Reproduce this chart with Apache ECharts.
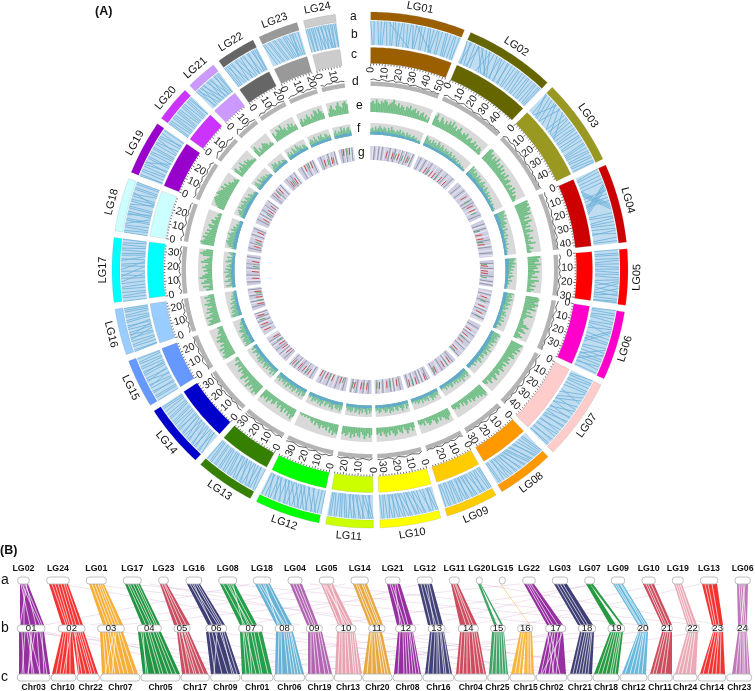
<!DOCTYPE html>
<html><head><meta charset="utf-8">
<style>html,body{margin:0;padding:0;background:#fff}#c{width:755px;height:691px}</style>
<script src="https://cdn.jsdelivr.net/npm/echarts@6/dist/echarts.min.js"></script>
</head><body><div id="c"></div>
<script>
const lgNames=['LG01','LG02','LG03','LG04','LG05','LG06','LG07','LG08','LG09','LG10','LG11','LG12','LG13','LG14','LG15','LG16','LG17','LG18','LG19','LG20','LG21','LG22','LG23','LG24'];
const lgLengths=[52,49.9,47.8,43.4,30.7,38,44.9,31.5,28.8,33.4,26,36,32.7,34.9,26.8,25.4,35.4,29.3,29.9,19.9,17,21.7,22,17.6];
const lgColors=['#9c5f00','#666600','#999922','#cc0000','#ff0000','#ff00cc','#ffcccc','#ff9900','#ffcc00','#ffff00','#ccff00','#00ff00','#358000','#0000cc','#6699ff','#99ccff','#00ffff','#ccffff','#9900cc','#cc33ff','#cc99ff','#666666','#999999','#cccccc'];

const syntenyLinks=[
[0,1,2,2,4,5,6,6,8,7,9,10,11,12,13,13,14,16,16,16,18,17,19,20,21,22,23,23,24,26,26,26,28,27,29,30,31,31,33,34,34,36,36,36,38,37,39,40,41,41,43,44,44,45,46,46,48,48,49,50,51,51,10,24,26,38],
[0,2,2,4,3,1,5,6,7,8,8,5,10,14,12,18,14,20,15,12,17,17,19,22,21,21,22,25,24,24,26,28,27,27,29,30,31,31,33,33,34,35,36,37,38,38,40,40,41,42,43,43,45,45,46,47,48,48,49,49,7,16,9,19],
[0,6,1,3,3,7,5,9,7,12,8,16,9,4,11,20,12,9,14,24,16,16,18,18,19,21,21,22,23,23,25,25,26,27,28,28,30,30,31,32,33,33,35,36,36,37,38,38,40,39,41,41,43,42,44,44,46,45,47,47],
[0,2,2,3,4,5,6,7,8,9,9,21,10,22,11,23,12,24,10,20,13,14,15,16,21,9,22,10,23,11,24,12,17,18,19,19,26,26,28,27,29,30,31,31,33,32,35,34,36,37,38,36,40,41,42,42],
[0,0,2,2,3,3,5,5,6,7,8,8,10,9,11,11,13,12,14,14,16,15,17,18,18,21,19,24,21,19,22,26,24,22,25,27,26,25,28,28,29,30,30,30],
[0,1,2,2,3,4,5,5,7,6,8,9,10,10,11,13,12,20,13,22,15,11,17,16,19,18,20,20,22,24,23,30,25,25,26,33,27,27,29,29,30,31,32,32,33,35,35,34,37,37],
[0,2,2,3,3,5,5,6,7,8,8,10,9,15,11,18,13,20,15,13,17,22,19,19,20,26,22,22,24,28,25,25,27,31,28,29,30,33,31,32,33,36,35,35,36,39,38,38,40,42,41,41,43,44,44,44],
[0,3,1,4,2,6,3,8,4,11,5,10,7,14,8,13,9,16,10,17,12,19,13,18,15,21,16,20,18,23,19,22,21,24,22,26,24,25,25,28,27,27,29,30,30,31],
[0,1,1,2,2,4,4,7,5,5,6,10,7,8,9,12,10,11,11,14,12,13,14,16,15,15,16,18,18,17,19,20,20,21,22,22,23,24,25,25,26,27,28,28],
[0,2,1,4,3,3,4,8,5,6,7,12,8,10,9,15,11,13,12,17,13,16,15,20,16,18,17,22,19,21,20,24,22,23,23,26,25,25,26,28,28,27,29,30,31,31,32,33],
[0,3,1,5,2,7,3,2,5,9,6,6,7,11,8,10,10,13,11,12,12,15,14,14,15,17,16,18,18,19,19,20,21,21,22,23,24,24,25,25],
[0,0,2,2,3,8,4,4,5,11,6,7,8,14,9,10,10,16,12,13,13,19,14,15,15,22,17,17,18,24,20,20,21,26,22,23,24,29,25,25,27,31,28,28,30,30,31,34,33,33,35,35],
[0,0,1,3,3,3,4,7,5,5,6,10,8,8,9,13,10,11,12,15,13,13,14,17,16,16,17,19,18,20,20,21,21,23,23,24,24,25,26,27,27,28,29,30,30,31,32,32],
[0,3,2,5,3,3,5,8,6,6,7,11,8,9,10,14,11,12,12,16,14,14,15,18,16,17,18,20,19,19,20,22,22,23,23,25,24,26,26,28,27,29,29,30,31,32,33,33,34,34],
[0,0,2,2,3,3,5,6,6,5,8,8,9,12,10,9,12,15,13,11,14,14,16,17,17,19,18,18,20,20,21,22,23,23,24,25,26,26],
[0,1,1,1,3,3,4,5,6,6,7,11,8,8,9,14,10,9,11,12,13,13,14,16,15,15,17,18,18,19,20,20,21,22,23,23,24,24,25,25],
[0,0,2,2,3,4,5,5,7,7,8,9,10,11,11,16,13,13,14,20,15,14,17,17,18,23,20,20,21,22,23,26,24,24,26,27,27,28,29,29,30,31,32,32,33,34,35,35],
[0,0,1,2,3,3,4,5,5,10,7,7,8,8,10,13,11,11,12,12,14,14,15,15,16,19,18,18,19,20,21,21,22,24,23,19,25,25,26,26,28,28,29,29],
[0,1,1,1,3,3,4,5,6,6,7,9,8,14,9,8,11,11,12,12,14,14,15,16,17,17,18,18,20,20,21,23,23,21,24,25,25,27,27,26,29,29],
[0,0,1,1,2,3,4,4,5,5,6,7,8,8,9,9,10,11,12,12,13,13,14,15,16,16,17,17,18,19,19,19],
[0,3,1,6,2,2,3,8,4,4,5,10,6,7,8,12,9,9,10,14,11,11,13,15,14,13,15,16,16,16],
[0,1,1,2,2,5,3,3,4,8,5,6,7,11,8,8,9,13,11,11,12,16,13,14,15,18,16,16,18,20,19,19,20,21,21,21],
[0,3,1,5,3,7,4,8,6,10,7,11,9,13,10,14,12,15,13,16,14,18,16,17,17,19,18,17,19,20,21,21],
[0,0,1,2,2,2,3,4,4,4,5,6,6,9,7,7,8,11,9,9,10,13,11,11,12,14,13,13,14,15,15,15,16,17,17,17]];

const trackD=[
[5,6,5,4,6,5,4,5,6,4,5,5,4,5,3,4,5,4,4,3,4,5,3,4,3,4],[4,6,5,4,5,3,4,6,5,4,5,3,4,5,4,3,5,4,3,4,3,4,3],[3,6,5,4,6,5,3,5,4,6,4,3,5,4,5,3,4,3,4,3,4],[6,5,6,4,5,4,6,5,4,5,3,4,5,3,4,5,3,4,3,4],[5,6,4,5,3,5,4,6,3,4,5,4,3,4],[6,5,4,6,4,3,5,4,5,3,4,6,4,3,4,3,4],[5,4,3,5,6,4,3,5,4,3,5,6,3,4,5,3,4,4,3,4],[4,3,5,4,3,5,6,4,3,5,3,4,3,4],[5,3,4,5,3,4,3,5,4,3,4,3,4],[3,5,4,3,4,5,4,3,6,4,3,4,5,4],[3,5,4,3,4,5,3,4,3,4,5,4],[3,5,4,6,5,3,4,5,3,4,5,4,3,4,5],[4,3,5,4,3,5,6,3,4,5,3,4,5,4],[5,6,4,3,5,3,4,5,4,6,3,5,3,4,5,4],[4,3,5,6,3,4,5,3,4,5,3,4],[6,4,5,3,6,4,7,4,5,4,6,4],[6,4,7,5,6,8,4,6,5,7,4,6,5,4,6,4],[6,7,4,6,8,5,4,6,7,4,6,5,6,4],[6,4,6,7,4,6,5,7,5,4,6,5,7,4],[4,6,8,5,7,4,6,8,5,6],[4,9,5,6,4,6,5,4],[4,6,4,6,5,7,4,6,5,4],[4,6,5,6,7,4,6,5,6,4],[6,4,6,5,7,5,6,5]];
const trackE=[
[7,8,6,9,7,6,8,7,9,8,6,7,8,10,7,6,8,5,7,6,4,7,6,8,5,6,7,4,6,3,5,6,3,5,2,4],
[7,9,5,4,8,6,4,7,5,8,6,9,5,7,4,6,8,5,4,6,5,7,3,5,6,3,4,6,3,5,2,5,4,2],
[9,10,7,8,5,8,6,9,5,7,4,8,5,7,3,6,4,7,3,5,6,2,4,5,2,6,3,5,2,4,3,2],
[10,9,10,8,10,9,7,9,4,7,3,8,5,3,6,2,5,7,2,4,3,6,2,4,7,2,3,5,2,3],
[9,7,8,5,9,6,7,4,8,5,3,7,2,8,5,3,6,2,5,3],
[9,10,9,7,10,8,6,9,3,6,3,8,4,3,2,3,3,6,8,3,5,7,2,4,6,3],
[9,8,7,9,6,8,5,7,8,4,6,5,7,3,6,4,5,7,3,5,6,3,5,7,3,4,6,2,4,3],
[8,9,7,8,6,7,5,6,7,4,6,3,5,6,3,5,2,4,5,3,4,3],
[5,6,8,7,5,4,6,3,6,7,4,3,5,6,4,2,5,3,4,3],
[4,6,3,5,7,4,2,6,5,3,6,7,5,3,6,4,7,5,3,6,4,5],
[5,7,4,6,8,5,3,7,6,4,7,5,8,4,6,7,5,6],
[7,6,8,5,7,3,6,4,5,3,6,4,3,5,2,4,3,1,2,1,2,1,2,1],
[6,8,5,7,4,6,3,7,5,3,6,4,2,5,6,3,5,7,4,6,5,7],
[8,7,9,6,8,5,7,9,4,7,3,6,8,4,5,3,6,2,4,3,5,1,3,2],
[8,9,7,8,6,9,5,7,4,6,8,5,7,3,5,4,3,4],
[9,7,8,5,9,6,4,8,5,7,3,6,8,4,6,3,7,4],
[5,3,7,2,8,6,4,9,7,5,3,6,4,7,5,3,8,6,4,2,7,9,7,5],
[9,10,8,7,9,6,8,5,7,4,6,7,3,5,6,3,4,2,3,2],
[5,7,8,9,10,9,8,10,9,8,7,9,6,8,5,6,4,3,4,2],
[7,8,3,5,6,4,8,5,3,6,4,5,3,3,2,2],
[6,8,2,5,3,4,6,5,4,2,3,2],
[7,4,5,8,7,6,9,5,6,3,5,7,4,6,3,4],
[4,6,3,5,4,7,5,3,6,4,8,7,5,8,6,4],
[3,6,8,5,4,7,9,6,5,8,9,7]];
const trackFBlue=[
[3,3,4,3,4,3,3,3,3,3,3,3,2,3,2,3,2,2],[3,3,3,3,3,3,3,3,3,3,3,3,3,2,3,2,2],[4,4,3,4,3,3,3,4,3,3,3,3,3,2,3,2],[4,4,4,4,3,3,4,3,3,3,3,3,2,3,3],[4,4,4,3,4,3,3,3,3,2],[4,4,4,4,3,3,3,3,3,3,3,3,3],[3,3,4,4,4,4,4,4,4,4,4,4,4,4,4],[3,3,4,4,4,3,4,3,3,3,3],[3,3,4,3,3,3,4,3,3,3],[3,3,4,3,4,3,4,3,4,3,3],[3,3,4,3,4,3,3,3,3],[3,3,4,4,3,3,3,4,3,3,4,3],[3,3,3,4,3,4,3,4,3,4,3],[3,3,3,3,3,4,3,4,4,4,3,4],[4,4,3,4,3,3,3,3,3],[4,3,4,3,3,3,3,3,3],[3,4,3,4,4,4,3,4,3,3,3,3],[3,4,4,4,4,4,4,3,3,3],[3,3,4,4,4,4,3,3,3,3],[3,3,3,4,3,3,3,3],[2,3,3,3,3,3],[3,4,3,3,3,4,3,3],[3,3,3,3,3,3,3,3],[3,3,3,4,3,4]];
const trackFGreen=[
[5,6,4,7,5,6,8,6,5,7,6,4,7,5,8,6,5,4,6,5,7,4,6,5,3,6,4,5,3,4,5,3,4,2,3,2],
[9,8,6,7,5,8,6,7,5,9,7,5,8,6,4,7,5,6,4,7,5,3,6,4,5,3,5,2,4,3,2,3,2,2],
[10,8,9,6,8,7,5,8,6,7,4,6,8,5,6,3,7,5,3,6,4,5,2,5,3,4,2,4,3,2,3,2],
[10,9,8,10,7,9,6,7,8,5,6,3,7,4,5,3,6,2,5,3,4,2,5,2,3,4,2,3,1,2],
[9,8,7,9,6,8,5,7,4,6,3,7,5,2,6,3,4,2,3,2],
[9,7,8,6,9,7,5,8,6,4,7,5,3,6,5,7,3,6,4,7,3,5,6,2,4,3],
[8,9,7,8,6,9,7,5,8,4,7,6,9,5,7,8,4,6,7,3,6,8,4,5,3,6,4,2,4,3],
[6,8,5,7,6,9,5,7,4,7,5,6,3,6,7,4,5,3,6,4,3,4],
[4,6,5,7,6,8,5,3,7,5,6,4,7,3,5,6,4,5,3,4],
[5,7,3,6,8,5,4,7,6,3,7,6,8,4,6,7,5,3,6,7,4,5],
[5,7,4,8,6,3,7,5,8,4,6,7,3,6,7,5,6,4],
[6,8,5,7,6,3,8,6,7,4,5,7,3,6,8,5,7,4,6,5,7,3,5,4],
[6,7,4,8,5,7,3,6,8,5,7,4,6,8,3,7,5,6,4,7,5,6],
[7,4,8,5,6,3,7,5,8,6,4,7,5,8,6,7,3,6,4,5,7,3,6,4],
[9,8,7,9,8,6,9,7,5,7,8,5,6,3,5,4,3,2],
[8,9,6,8,7,5,8,6,4,7,5,3,6,4,5,3,4,2],
[3,8,5,3,9,6,4,8,7,5,9,6,8,4,7,5,3,8,6,3,7,2,4,6],
[4,7,8,9,10,8,9,7,8,10,7,5,8,6,7,4,5,3,4,3],
[4,6,7,8,5,9,7,8,6,9,7,5,8,6,4,7,5,3,4,3],
[4,7,8,5,3,8,6,4,7,5,6,3,5,4,3,2],
[3,5,8,6,7,4,5,6,3,5,4,3],
[5,7,4,6,3,8,6,4,9,7,5,6,3,6,5,3],
[5,7,6,4,8,5,3,7,6,8,5,4,7,6,4,5],
[5,7,4,6,5,9,6,8,5,7,8,5]];

const redMarks=[[19,26,33,44],[14,22,26,35,42],[18,31,36],[15,20,27],[6,12,15],[9,20,28],[10,18,27,38],[6,14,25],[5,16,24],[6,18,27],[5,12,20],[8,18,26,33],[7,14,20,28],[6,13,19,30],[4,11,22],[5,13,20],[7,15,27],[6,14,23],[7,19,25],[6,13],[5,11],[8,16],[6,15],[5,12]];
const greenMarks=[[30,38,46],[18,30],[24,40],[10,24],[4,20],[14,33],[22,41],[10,27],[20],[14,30],[9,22],[5,22],[10,25],[24],[17],[9,18],[21],[11],[14],[9],[7],[13],[10,17],[9]];
const grayMarks=[[4,9,13,22,28,36,41,49],[3,9,17,30,38,46],[4,11,24,28,44],[4,9,23,31,38],[3,9,18,24,28],[5,13,24,33],[4,14,23,32,42],[3,10,18,28],[3,9,13,20,26],[3,10,14,23,31],[3,9,17,23],[3,12,22,30],[3,11,18,24,30],[3,10,16,23,28],[8,15,20,25],[3,9,16,23],[3,11,19,24,32],[3,9,19,26],[4,11,16,22,28],[3,10,17],[3,9,14],[4,11,19],[3,12,20],[3,8,15]];
const paleMarks=[[2,7,11,16,24,31,35,40,47],[6,12,20,24,33,41,48],[7,14,21,34,38],[6,12,18,29,35,41],[5,11,21,26],[3,8,17,22,30,36],[7,12,20,30,36,44],[8,12,21,30],[7,11,18,23],[8,12,21,26,32],[7,14,21],[6,15,20,28,35],[5,12,22,31],[8,12,21,26,33],[6,13,18,24],[7,11,18,22],[5,9,17,24,30],[8,16,21,28],[9,13,21,27],[8,15,19],[3,13,16],[6,14,20],[9,14,19],[7,13,16]];

const rowALabels=['LG02','LG24','LG01','LG17','LG23','LG16','LG08','LG18','LG04','LG05','LG14','LG21','LG12','LG11','LG20','LG15','LG22','LG03','LG07','LG09','LG10','LG19','LG13','LG06'];
const rowASpans=[[17.7,29.3],[46.7,69.3],[86.3,106.3],[123.3,141.3],[158.7,168.3],[186,201.7],[218.7,236.7],[253.3,270.7],[288,302],[319.3,333.7],[351,368.3],[385.3,400],[417.3,432.3],[449.3,459.3],[476.3,482.3],[499.3,505.3],[522.7,535.3],[552.3,567.7],[584.7,594.7],[611.3,624.7],[642,655.3],[672.3,683.3],[700.3,717.7],[735,750.3]];
const rowBLabels=['01','02','03','04','05','06','07','08','09','10','11','12','13','14','15','16','17','18','19','20','21','22','23','24'];
const rowBSpans=[[17.3,45],[58.3,85],[97.7,124.3],[137.3,161.3],[174,190],[206,226.7],[238.7,262.7],[275.3,293.7],[306.3,322.3],[336,356],[368.7,385],[395.7,415.7],[428.3,445],[458.3,478.3],[490.7,505.3],[517.7,532.7],[545.7,565.7],[578.3,595.7],[608,624.7],[637.7,648.3],[661.3,672.3],[685.7,699.3],[712,723.3],[737,748]];
const rowCLabels=['Chr03','Chr10','Chr22','Chr07','Chr05','Chr17','Chr09','Chr01','Chr06','Chr19','Chr13','Chr20','Chr08','Chr16','Chr04','Chr25','Chr15','Chr02','Chr21','Chr18','Chr12','Chr11','Chr24','Chr14','Chr23'];
const rowCSpans=[[17.3,50],[51.3,76],[77,99.3],[100.7,140],[141,180],[181,209.3],[210.7,240],[241.3,273],[274,304.7],[305.7,333.3],[334.3,361.7],[362.7,392],[393,422],[423,453.7],[454.7,486.7],[487.7,509],[510,535.3],[536.3,566.7],[567.7,592],[593,619],[620,647],[648,672.3],[673.3,697],[698,725.7],[726.7,751.7]];
const rowCLabelShift={Chr22:2.5,Chr10:-1,Chr15:3,Chr25:-1};
const groupColors=['#8b1a96','#f41c1c','#f5a623','#0a8a2e','#c43c50','#2a2a66','#0f9438','#55aad0','#a855a8','#e59aa8','#e5a030','#8b1a96','#2e2e6a','#c8384c','#2a9a55','#f5ae2a','#8b1a96','#2a2a66','#0f8f2c','#58b0d8','#c83a4c','#e8a0ac','#f41c1c','#b86ab0'];
const abBands=[[[20,28,20,44]],[[49,68,62,83]],[[89,104,103,123]],[[125,140,142,160]],[[160,167,174,190]],[[187,200,208,225]],[[220,235,240,257]],[[255,270,276,292]],[[290,302,307,318]],[[321,333,338,353]],[[353,367,369,383]],[[387,400,397,413]],[[418,432,428,443]],[[451,458,460,477]],[[478,480,494,497],[480,481,501,503]],[[500.5,501,529.5,530]],[[524,534,547,563]],[[554,567,578,593]],[[586,590,610,616],[590,593,621,623]],[[613,623,638,648]],[[643,654,662,672]],[[674,682,687,697]],[[702,717,712,723]],[[737,748,738,747]]];
const abSlits=[[[21,30],[24,24],[26,36],[22,40],[25,42],[27,20]],[[52,66],[55,68],[58,70],[61,73],[64,76],[66,80]],[[92,107],[95,110],[98,113],[100,116],[102,119]],[[128,146],[130,150],[133,152],[136,155],[138,157]],[[162,178],[164,182],[165,186]],[[190,213],[192,218],[194,212],[196,220],[198,222]],[[223,245],[227,250],[229,248],[231,253],[233,243]],[[258,280],[260,285],[263,283],[265,278],[268,288]],[[293,310],[296,313],[299,315]],[[323,340],[326,345],[329,350],[331,343],[324,348]],[[356,372],[358,375],[362,378],[364,380]],[[390,402],[392,405],[395,400],[397,408]],[[421,431],[424,436],[427,434],[429,439]],[[453,466],[455,470],[456,473]],[],[],[[527,550],[529,553],[531,558]],[[557,581],[560,585],[563,588]],[],[[615,640],[617,641],[620,644],[621,646]],[[646,664],[648,666],[651,669]],[[676,689],[678,691],[680,694]],[[705,714],[708,716],[712,719]],[[741,744],[745,741],[739,742],[743,746]]];
const bcBands=[[[19,44,19,50]],[[62,72,52,75],[72,84,78,98]],[[100,123,102,138]],[[138,161,143,180]],[[177,189,182,208]],[[206,226,211,240]],[[240,262,242,272]],[[276,293,275,304]],[[308,322,308,332]],[[337,355,335,362]],[[369,382,363,391]],[[398,413,394,421]],[[430,444,425,452]],[[460,478,456,486]],[[492,504,489,508]],[[520,526,511,522],[526,532,524,534]],[[548,563,538,566]],[[580,594,570,592]],[[610,623,594,618]],[[638,648,622,646]],[[662,672,650,672]],[[687,698,675,696]],[[713,723,700,725]],[[738,747,732,750]]];
const bcSlits=[[[22,24],[25,22],[27,34],[30,32],[32,28],[35,28],[37,40],[40,47],[42,44],[29,40]],[[64,56],[66,60],[68,66],[70,70],[71,63],[74,82],[76,86],[78,90],[80,92],[82,95],[75,79]],[[103,106],[105,110],[108,115],[110,120],[113,124],[114,105],[118,128],[120,134],[116,112]],[[141,148],[145,155],[148,160],[150,163],[153,168],[156,172],[158,176],[143,146]],[[179,186],[182,190],[184,196],[185,200],[187,204],[181,194]],[[209,215],[212,222],[215,228],[217,214],[220,234],[222,232],[224,237]],[[243,246],[246,256],[248,252],[251,260],[254,262],[258,268],[244,250]],[[279,278],[281,282],[284,288],[286,292],[288,295],[290,298],[291,301]],[[311,311],[313,316],[315,320],[318,325],[320,329]],[[340,338],[342,342],[345,346],[347,350],[350,354],[352,356],[354,359]],[[371,367],[372,372],[374,377],[376,382],[378,385],[379,388]],[[400,398],[403,404],[405,407],[407,410],[409,413],[410,416],[412,419]],[[432,428],[435,433],[437,437],[438,440],[440,444],[441,446],[443,450]],[[462,459],[465,463],[467,467],[469,471],[472,476],[474,480],[476,484]],[[495,492],[497,496],[499,500],[501,503],[503,506]],[[522,515],[524,519],[528,528],[530,531]],[[550,541],[553,545],[555,549],[558,552],[561,556],[550,560],[547,554],[563,542]],[[582,573],[585,576],[587,579],[589,582],[591,585],[592,588]],[[612,598],[614,602],[616,606],[618,610],[620,612],[621,615]],[[639,625],[641,630],[643,634],[644,638],[646,642]],[[664,653],[666,656],[668,661],[670,665]],[[689,678],[691,682],[693,686],[695,690]],[[714,703],[716,708],[718,712],[719,716],[721,720]],[[740,736],[741,740],[743,743],[744,745],[746,748]]];
const faintAB=[[90,420],[60,300],[230,640],[130,560],[310,700],[420,250],[520,120],[600,330],[660,470],[700,520],[590,430],[345,90],[250,45],[480,720],[150,380]];
const faintBC=[[30,380],[70,250],[120,470],[300,560],[340,680],[210,600],[450,110],[560,300],[640,200],[700,420],[40,230],[45,300],[380,640],[260,520],[590,150]];

// ---- layout ----
const CX=370,CY=270,R=258;
const ring={aO:258,aI:250,bO:249,bI:225,cO:222.5,cI:206.5,d0:184,eI:158,eO:172,fI:135.5,fO:147,gI:110,gO:124};
const gap=3.66,endGap=18.9;
const lgStart=[];let acc=0.4;
lgLengths.forEach((l,i)=>{lgStart[i]=acc;acc+=l+gap;});
const total=acc-gap+endGap;

function arc(api,a0,a1,r0,r1){
  const n=Math.max(2,Math.ceil((a1-a0)/1.5)),pts=[];
  for(let k=0;k<=n;k++)pts.push(api.coord([r1,a0+(a1-a0)*k/n]));
  for(let k=n;k>=0;k--)pts.push(api.coord([r0,a0+(a1-a0)*k/n]));
  return pts;
}
function polar(rows,draw,z){
  return {type:'custom',coordinateSystem:'polar',silent:true,animation:false,z:z||2,clip:false,
    encode:{radius:0,angle:1},data:rows,renderItem:(p,api)=>draw(rows[p.dataIndex],api)};
}
function cart(rows,draw,z){
  return {type:'custom',coordinateSystem:'cartesian2d',silent:true,animation:false,z:z||2,clip:false,
    encode:{x:0,y:1},data:rows,renderItem:(p,api)=>draw(rows[p.dataIndex],api)};
}
const poly=(points,fill,extra)=>({type:'polygon',shape:{points},style:Object.assign({fill,stroke:null},extra||{})});

const series=[];
const lgIdx=lgNames.map((_,i)=>i);
const sectorRows=(r0,r1)=>lgIdx.map(i=>[r0,lgStart[i],lgStart[i]+lgLengths[i],r1,i]);

[[ring.aI,ring.aO],[ring.cI,ring.cO]].forEach(([r0,r1])=>{
  series.push(polar(sectorRows(r0,r1),(d,api)=>poly(arc(api,d[1],d[2],d[0],d[3]),lgColors[d[4]],{stroke:'rgba(120,120,120,0.35)',lineWidth:0.5})));
});
series.push(polar(sectorRows(ring.bI,ring.bO),(d,api)=>poly(arc(api,d[1],d[2],d[0],d[3]),'#bfdcf0')));
const linkRows=[];
syntenyLinks.forEach((arr,i)=>{for(let k=0;k<arr.length;k+=2)linkRows.push([ring.bO,lgStart[i]+arr[k],lgStart[i]+arr[k+1]]);});
series.push(polar(linkRows,(d,api)=>{
  const a=api.coord([ring.bO,d[1]]),b=api.coord([ring.bI,d[2]]);
  return {type:'line',shape:{x1:a[0],y1:a[1],x2:b[0],y2:b[1]},style:{stroke:'#6cb0da',lineWidth:1,opacity:0.8}};
},3));
series.push(polar(lgIdx.map(i=>[ring.d0,lgStart[i],lgStart[i]+lgLengths[i],i]),(d,api)=>{
  const vals=trackD[d[3]],w=(d[2]-d[1])/(vals.length-1);
  const line=vals.map((v,k)=>api.coord([ring.d0+2.2+v*0.8,d[1]+k*w]));
  return {type:'group',children:[
    poly(arc(api,d[1],d[2],ring.d0,ring.d0+4.4),'#b4b4b4'),
    {type:'polyline',shape:{points:line},style:{stroke:'#3c3c3c',lineWidth:0.8,fill:null}}
  ]};
}));
[[ring.eI,ring.eO,'#d9d9d9'],[ring.fI,ring.fO,'#d9d9d9'],[ring.gI,ring.gO,'#cdcde2']].forEach(([r0,r1,c])=>{
  series.push(polar(sectorRows(r0,r1),(d,api)=>poly(arc(api,d[1],d[2],d[0],d[3]),c)));
});
function hist(track,rI,rO,color,z,scale){
  const rows=[];
  track.forEach((v,i)=>{const w=lgLengths[i]/v.length;v.forEach((y,k)=>rows.push([rI,lgStart[i]+k*w,lgStart[i]+(k+1)*w,y]));});
  series.push(polar(rows,(d,api)=>poly(arc(api,d[1],d[2],rI,rI+(rO-rI)*d[3]*scale/10),color),z));
}
hist(trackE,ring.eI,ring.eO,'#70c086',3,1);
hist(trackFGreen,ring.fI,ring.fO,'#74c192',3,1);
hist(trackFBlue,ring.fI,ring.fO,'#5fa9cc',4,0.75);
function marks(list,color,w,span){
  const rows=[];
  list.forEach((v,i)=>v.forEach(p=>rows.push([ring.gI,lgStart[i]+p])));
  series.push(polar(rows,(d,api)=>{
    const step=d[1]%1*(ring.gO-ring.gI-span);
    const a=api.coord([ring.gI+step,d[1]]),b=api.coord([ring.gI+step+span,d[1]+1]);
    return {type:'line',shape:{x1:a[0],y1:a[1],x2:b[0],y2:b[1]},style:{stroke:color,lineWidth:w}};
  },4));
}
marks(paleMarks,'#eeeef5',0.9,13.5);
marks(grayMarks,'#85859a',0.8,13.5);
marks(redMarks,'#d24b46',1,7);
marks(greenMarks,'#5aa86a',1,6);
const tickRows=[];
lgLengths.forEach((l,i)=>{for(let m=0;m<=l;m+=2)tickRows.push([ring.cI,lgStart[i]+m,m]);});
series.push(polar(tickRows,(d,api)=>{
  const major=d[2]%10===0;
  const a=api.coord([ring.cI-0.2,d[1]]),b=api.coord([ring.cI-(major?3:1.8),d[1]]);
  return {type:'line',shape:{x1:a[0],y1:a[1],x2:b[0],y2:b[1]},style:{stroke:'#333',lineWidth:0.7}};
},4));
const tickLabelRows=[];
lgLengths.forEach((l,i)=>{for(let m=0;m<=l;m+=10)tickLabelRows.push([203,lgStart[i]+m,m]);});
series.push(polar(tickLabelRows,(d,api)=>{
  const p=api.coord([d[0],d[1]]),th=d[1]/total*360,right=th<180;
  const rot=right?th-90:th-270;
  return {type:'text',x:p[0],y:p[1],rotation:-rot*Math.PI/180,style:{text:String(d[2]),fill:'#1a1a1a',font:'10.5px "Liberation Sans",Arial,sans-serif',textAlign:right?'right':'left',textVerticalAlign:'middle'}};
},5));
series.push(polar(lgIdx.map(i=>[267,lgStart[i]+lgLengths[i]/2,i]),(d,api)=>{
  const p=api.coord([d[0],d[1]]),th=d[1]/total*360;
  const rot=th<88?th:(th<264?th-180:th-360);
  return {type:'text',x:p[0],y:p[1],rotation:-rot*Math.PI/180,style:{text:lgNames[d[2]],fill:'#111',font:'11px "Liberation Sans",Arial,sans-serif',textAlign:'center',textVerticalAlign:'middle'}};
},5));

// ---- panel B ----
const Y={aT:577,aB:584,bT:625,bB:632,cT:674,cB:681,aLab:569,cLab:687.5};
function bandSeries(bands,slits,faint,yT,yB){
  series.push(cart(faint.map(f=>[f[0],yT,f[1]]),(d,api)=>{
    const a=api.coord([d[0],yT]),b=api.coord([d[2],yB]);
    return {type:'line',shape:{x1:a[0],y1:a[1],x2:b[0],y2:b[1]},style:{stroke:'#cfa0c8',lineWidth:0.6,opacity:0.5}};
  },1));
  const rows=[];bands.forEach((g,i)=>g.forEach(q=>rows.push([q[0],yT,q[1],q[2],q[3],i])));
  series.push(cart(rows,(d,api)=>poly([api.coord([d[0],yT]),api.coord([d[2],yT]),api.coord([d[4],yB]),api.coord([d[3],yB])],groupColors[d[5]],{opacity:0.9}),2));
  const sr=[];slits.forEach(g=>g.forEach(s=>sr.push([s[0],yT,s[1]])));
  series.push(cart(sr,(d,api)=>{
    const a=api.coord([d[0],yT]),b=api.coord([d[2],yB]);
    return {type:'line',shape:{x1:a[0],y1:a[1],x2:b[0],y2:b[1]},style:{stroke:'#fff',lineWidth:0.8,opacity:0.85}};
  },3));
}
bandSeries(abBands,abSlits,faintAB,Y.aB,Y.bT);
bandSeries(bcBands,bcSlits,faintBC,Y.bB,Y.cT);
function blocks(spans,labels,yT,yB,labY,font){
  series.push(cart(spans.map((s,i)=>[s[0],yT,s[1],i]),(d,api)=>{
    const a=api.coord([d[0],yT]),b=api.coord([d[2],yB]);
    const t=api.coord([(d[0]+d[2])/2+(rowCLabelShift[labels[d[3]]]||0),labY]);
    return {type:'group',children:[
      {type:'rect',shape:{x:a[0],y:a[1],width:b[0]-a[0],height:b[1]-a[1],r:3},style:{fill:'#fff',stroke:'#b0b0b0',lineWidth:0.8}},
      {type:'text',x:t[0],y:t[1],style:{text:labels[d[3]],font,fill:'#111',textAlign:'center',textVerticalAlign:'middle'}}
    ]};
  },5));
}
blocks(rowASpans,rowALabels,Y.aT,Y.aB,Y.aLab,'bold 8.8px "Liberation Sans",Arial,sans-serif');
blocks(rowBSpans,rowBLabels,Y.bT,Y.bB,628.7,'9.5px "Liberation Sans",Arial,sans-serif');
blocks(rowCSpans,rowCLabels,Y.cT,Y.cB,Y.cLab,'bold 8.5px "Liberation Sans",Arial,sans-serif');
const notes=[['(A)',95,12,'bold 12.5px'],['(B)',0,551,'bold 12.5px'],['a',1,580,'14px'],['b',1,628,'14px'],['c',1,677,'14px'],
['a',350,17,'12px'],['b',351,35,'12px'],['c',351,55,'12px'],['d',352,82,'12px'],['e',356,106,'12px'],['f',357,129,'12px'],['g',358,153,'12px']];
series.push(cart(notes.map(n=>[n[1],n[2]]),null,6));
series[series.length-1].renderItem=(p,api)=>{
  const n=notes[p.dataIndex],c=api.coord([n[1],n[2]]);
  return {type:'text',x:c[0],y:c[1],style:{text:n[0],font:n[3]+' "Liberation Sans",Arial,sans-serif',fill:'#111',textAlign:'left',textVerticalAlign:'middle'}};
};

const chart=echarts.init(document.getElementById('c'),null,{renderer:'canvas'});
chart.setOption({
  animation:false,backgroundColor:'#fff',
  polar:{center:[CX,CY],radius:[0,R]},
  angleAxis:{type:'value',min:0,max:total,startAngle:90,clockwise:true,show:false},
  radiusAxis:{type:'value',min:0,max:R,show:false},
  grid:{left:0,right:0,top:0,bottom:0},
  xAxis:{type:'value',min:0,max:755,show:false},
  yAxis:{type:'value',min:0,max:691,inverse:true,show:false},
  series
});
</script></body></html>
